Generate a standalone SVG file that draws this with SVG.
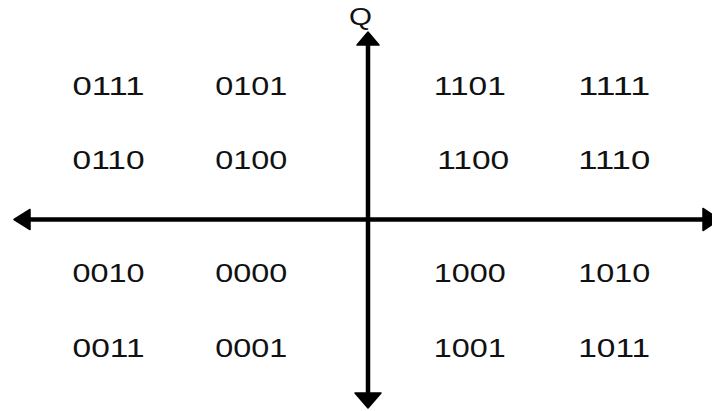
<svg xmlns="http://www.w3.org/2000/svg" width="712" height="411" viewBox="0 0 712 411">
<style>
text{font-family:"Liberation Sans",Arial,sans-serif;font-size:26.5px;fill:#111}
.ax{stroke:#000;stroke-width:4.5;fill:none}
.hd{fill:#000;stroke:#000;stroke-width:1.5;stroke-linejoin:round}
</style>
<rect width="712" height="411" fill="#fff"/>
<g id="axes">
<line class="ax" x1="24" y1="219.5" x2="704" y2="219.5"/>
<line class="ax" x1="368" y1="44" x2="368" y2="395"/>
<polygon class="hd" points="14,219.5 30,209.5 30,229.5"/>
<polygon class="hd" points="720,219.5 703,208.5 703,230.5"/>
<polygon class="hd" points="368,32 357,45 379,45"/>
<polygon class="hd" points="368,408 355,393 381,393"/>
</g>
<g id="label-Q"><text x="349" y="25" style="font-size:24px" textLength="23" lengthAdjust="spacingAndGlyphs">Q</text></g>
<g id="n0111"><text x="72.6" y="94.5" textLength="72" lengthAdjust="spacingAndGlyphs">0111</text></g>
<g id="n0101"><text x="215.3" y="94.5" textLength="72" lengthAdjust="spacingAndGlyphs">0101</text></g>
<g id="n1101"><text x="433.8" y="94.5" textLength="72" lengthAdjust="spacingAndGlyphs">1101</text></g>
<g id="n1111"><text x="578.2" y="94.5" textLength="72" lengthAdjust="spacingAndGlyphs">1111</text></g>
<g id="n0110"><text x="72.6" y="169" textLength="72" lengthAdjust="spacingAndGlyphs">0110</text></g>
<g id="n0100"><text x="215.3" y="169" textLength="72" lengthAdjust="spacingAndGlyphs">0100</text></g>
<g id="n1100"><text x="437.2" y="169" textLength="72" lengthAdjust="spacingAndGlyphs">1100</text></g>
<g id="n1110"><text x="578.2" y="169" textLength="72" lengthAdjust="spacingAndGlyphs">1110</text></g>
<g id="n0010"><text x="72.6" y="281.5" textLength="72" lengthAdjust="spacingAndGlyphs">0010</text></g>
<g id="n0000"><text x="215.3" y="281.5" textLength="72" lengthAdjust="spacingAndGlyphs">0000</text></g>
<g id="n1000"><text x="433.8" y="281.5" textLength="72" lengthAdjust="spacingAndGlyphs">1000</text></g>
<g id="n1010"><text x="578.2" y="281.5" textLength="72" lengthAdjust="spacingAndGlyphs">1010</text></g>
<g id="n0011"><text x="72.6" y="356.5" textLength="72" lengthAdjust="spacingAndGlyphs">0011</text></g>
<g id="n0001"><text x="215.3" y="356.5" textLength="72" lengthAdjust="spacingAndGlyphs">0001</text></g>
<g id="n1001"><text x="433.8" y="356.5" textLength="72" lengthAdjust="spacingAndGlyphs">1001</text></g>
<g id="n1011"><text x="578.2" y="356.5" textLength="72" lengthAdjust="spacingAndGlyphs">1011</text></g>
</svg>
